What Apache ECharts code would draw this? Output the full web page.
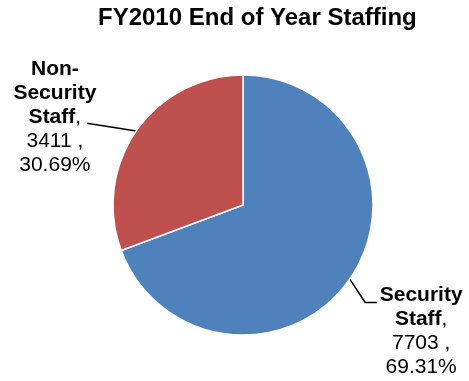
<!DOCTYPE html>
<html>
<head>
<meta charset="utf-8">
<script src="https://cdn.jsdelivr.net/npm/echarts@6/dist/echarts.min.js"></script>
<style>
  html, body { margin: 0; padding: 0; background: #fff; }
  #chart { width: 469px; height: 381px; }
</style>
</head>
<body>
<div id="chart"></div>
<script>
// data
var categories = ['Security Staff', 'Non-Security Staff'];
var staffCounts = [7703, 3411];
var sliceColors = ['#4F81BD', '#C0504D'];

var font = 'Liberation Sans, Arial, sans-serif';

var myChart = echarts.init(document.getElementById('chart'));

// label placement (fraction of chart size) and leader line bends, relative to label centre
var labelSpots = {
    'Security Staff': { x: 0.898, y: 0.870, bend: [[-56, -29], [-44, -29]] },
    'Non-Security Staff': { x: 0.117, y: 0.308, bend: [[32, 6], [32, 6]] }
};

myChart.setOption({
    animation: false,
    title: {
        text: 'FY2010 End of Year Staffing',
        left: 93,
        top: 1,
        textStyle: {
            fontFamily: font,
            fontSize: 24,
            fontWeight: 'bold',
            color: '#000'
        }
    },
    series: [
        {
            type: 'pie',
            center: [243, 205],
            radius: [0, 130],
            startAngle: 90,
            clockwise: true,
            itemStyle: {
                borderColor: '#fff',
                borderWidth: 1.5
            },
            label: {
                show: true,
                position: 'outside',
                overflow: 'none',
                fontFamily: font,
                color: '#000',
                align: 'center',
                formatter: function (p) {
                    var words = p.name.replace('-', '-\n').replace(/ /g, '\n').split('\n');
                    var lines = words.map(function (w, i) {
                        return '{b|' + w + '}' + (i === words.length - 1 ? '{n|,}' : '');
                    });
                    lines.push('{n|' + p.value + ' ,}');
                    lines.push('{n|' + p.percent.toFixed(2) + '%}');
                    return lines.join('\n');
                },
                rich: {
                    b: { fontFamily: font, fontSize: 21, fontWeight: 'bold', color: '#000', lineHeight: 24, align: 'center' },
                    n: { fontFamily: font, fontSize: 21, color: '#000', lineHeight: 24, align: 'center' }
                }
            },
            labelLine: {
                show: true,
                length2: 10,
                lineStyle: { color: '#000', width: 1.5 }
            },
            labelLayout: function (params) {
                var spot = labelSpots[categories[params.dataIndex]];
                var lx = spot.x * myChart.getWidth();
                var ly = spot.y * myChart.getHeight();
                var pts = [params.labelLinePoints[0].slice()];
                spot.bend.forEach(function (b) {
                    pts.push([lx + b[0], ly + b[1]]);
                });
                return {
                    x: lx,
                    y: ly,
                    align: 'center',
                    verticalAlign: 'middle',
                    labelLinePoints: pts
                };
            },
            data: categories.map(function (c, i) {
                return { name: c, value: staffCounts[i], itemStyle: { color: sliceColors[i] } };
            })
        }
    ]
});
window.onresize = function () {
    myChart.resize();
};
</script>
</body>
</html>
